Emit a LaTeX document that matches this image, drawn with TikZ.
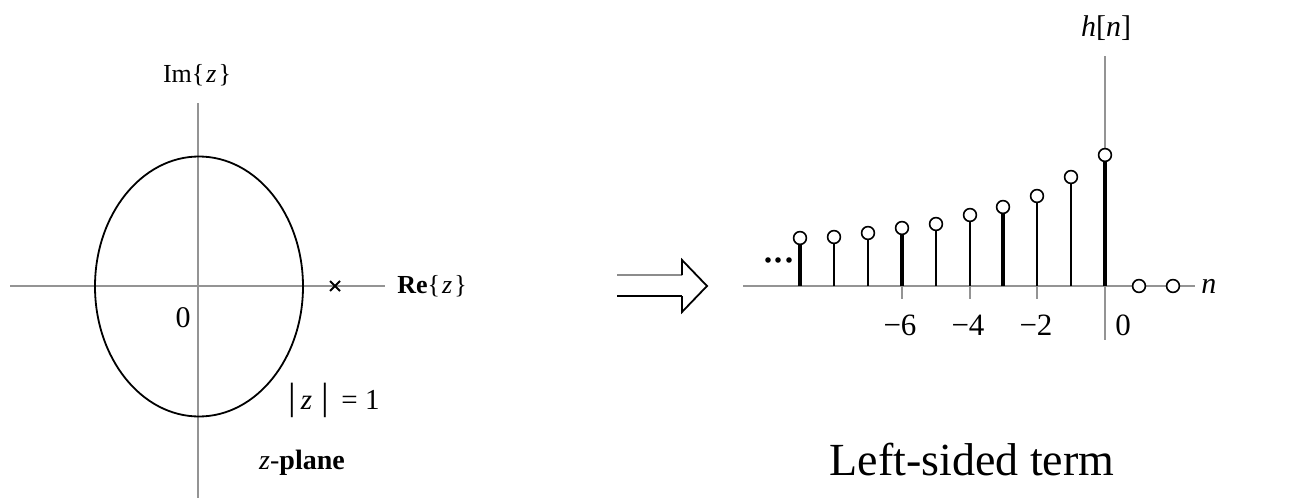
\documentclass[tikz,border=0pt]{standalone}
\usepackage{fontspec}
\setmainfont{Liberation Serif}
\usetikzlibrary{calc}
\begin{document}
\begin{tikzpicture}[x=0.5pt,y=-0.5pt,
  axisline/.style={draw=black!42, line width=1pt},
  curve/.style={draw=black, line width=0.9pt},
  lbl/.style={inner sep=0pt, font=\fontsize{13}{15}\selectfont},
  ticklbl/.style={inner sep=0pt, font=\fontsize{15.5}{18}\selectfont},
  sample/.style={circle, draw=black, fill=white, line width=0.8pt, minimum size=6.4pt, inner sep=0pt},
  thickstem/.style={draw=black, line width=2pt},
  thinstem/.style={draw=black, line width=1.3pt}]
\useasboundingbox (0,0) rectangle (1303,498);

% ---------- left: z-plane ----------
\coordinate (reL) at (10,286);
\coordinate (reR) at (385,286);
\coordinate (imT) at (198,103);
\coordinate (imB) at (198,498);
\draw[axisline] (reL) -- (reR);
\draw[axisline] (imT) -- (imB);
\draw[curve] (199,286.5) ellipse [x radius=104, y radius=130];
\coordinate (pole) at (335,286);
\draw[black, line width=0.9pt] ($(pole)+(-5,-5)$) -- ($(pole)+(5,5)$) ($(pole)+(-5,5)$) -- ($(pole)+(5,-5)$);
\node[lbl] (im) at (197,75) {Im\{\kern1pt\textit{z}\kern1pt\}};
\node[lbl, anchor=west] (re) at (397,286) {\textbf{Re}\{\kern1pt\textit{z}\kern1pt\}};
\node[lbl, font=\fontsize{15}{17}\selectfont] (zero1) at (183,318) {0};
\node[lbl, anchor=west, font=\fontsize{14.5}{17}\selectfont] (unit) at (288,400) {{\fontsize{19}{19}\selectfont\textbar}\,\textit{z}\,\,{\fontsize{19}{19}\selectfont\textbar}\, = 1};
\node[inner sep=0pt, font=\fontsize{14}{16}\selectfont] (zplane) at (302,463) {\textit{z}-\textbf{plane}};

% ---------- implication arrow ----------
\coordinate (a1) at (617,275);
\coordinate (a2) at (682,275);
\coordinate (b1) at (617,296);
\coordinate (b2) at (682,296);
\coordinate (hT) at (682,260);
\coordinate (hB) at (682,312);
\coordinate (tip) at (707,286);
\draw[draw=black!45, line width=1.1pt] (a1) -- (a2);
\draw[black, line width=1.3pt] (b1) -- (b2);
\draw[black, line width=0.9pt, line join=miter] (a2) -- (hT) -- (tip) -- (hB) -- (b2);

% ---------- right: left-sided sequence ----------
\coordinate (nL) at (743,286);
\coordinate (nR) at (1195,286);
\coordinate (hTop) at (1105,56);
\coordinate (hBot) at (1105,340);
\draw[axisline] (nL) -- (nR);
\draw[axisline] (hTop) -- (hBot);
\foreach \x in {902,970,1037}
  \draw[axisline, line width=0.8pt] (\x,286) -- (\x,299);

\foreach \x/\y/\s [count=\i] in {800/238/thickstem, 834/237/thinstem, 868/233/thinstem,
    902/228/thickstem, 936/224/thinstem, 970/215/thinstem, 1003/207/thickstem,
    1037/196/thinstem, 1071/177/thinstem, 1105/155/thickstem}{
  \coordinate (b\i) at (\x,286);
  \node[sample] (s\i) at (\x,\y) {};
  \draw[\s] (b\i) -- (s\i.south);
}
\node[sample] (p1) at (1139,286) {};
\node[sample] (p2) at (1173,286) {};

\foreach \x in {768,778,789}
  \fill[black] (\x,260) circle (1.4pt);

\node[inner sep=0pt, font=\fontsize{15}{17}\selectfont] (hn) at (1106,28) {\textit{h}[\textit{n}]};
\node[inner sep=0pt, anchor=west, font=\fontsize{15}{17}\selectfont] (nlab) at (1201,286) {\textit{n}};
\node[ticklbl] (m6) at (900,325) {−6};
\node[ticklbl] (m4) at (968,325) {−4};
\node[ticklbl] (m2) at (1036,325) {−2};
\node[ticklbl] (z0) at (1123,325) {0};
\node[inner sep=0pt, anchor=base, font=\fontsize{23}{26}\selectfont] (title) at (972,475) {Left-sided term};
\end{tikzpicture}
\end{document}
